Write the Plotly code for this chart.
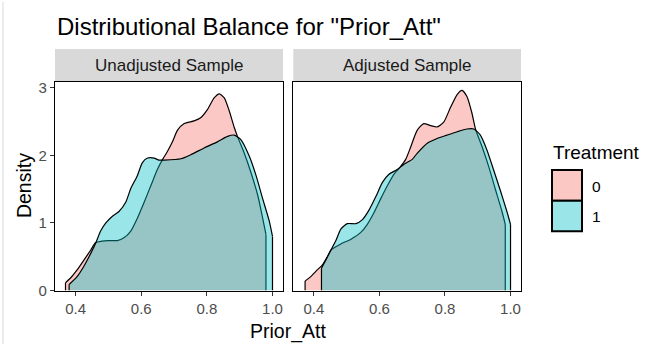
import plotly.graph_objects as go

# Density estimates of Prior_Att by treatment group
unadj_x0 = [0.369, 0.385, 0.405, 0.425, 0.446, 0.461, 0.480, 0.497, 0.527, 0.547, 0.568, 0.588,
            0.609, 0.629, 0.649, 0.665, 0.680, 0.695, 0.710, 0.731, 0.761, 0.782, 0.802, 0.822,
            0.838, 0.853, 0.868, 0.883, 0.894, 0.914, 0.934, 0.955, 0.970, 0.980]
unadj_y0 = [0.115, 0.19, 0.31, 0.45, 0.60, 0.71, 0.73, 0.74, 0.74, 0.78, 0.88, 1.07,
            1.31, 1.55, 1.79, 1.94, 2.06, 2.20, 2.37, 2.47, 2.51, 2.56, 2.68, 2.85,
            2.91, 2.85, 2.66, 2.42, 2.27, 2.03, 1.75, 1.41, 1.07, 0.83]

unadj_x1 = [0.380, 0.405, 0.425, 0.446, 0.461, 0.476, 0.492, 0.512, 0.532, 0.553, 0.568, 0.588,
            0.603, 0.619, 0.639, 0.654, 0.670, 0.721, 0.751, 0.792, 0.832, 0.863, 0.883, 0.904,
            0.929, 0.950, 0.970, 0.990, 1.000]
unadj_y1 = [0.09, 0.21, 0.36, 0.55, 0.70, 0.88, 1.00, 1.10, 1.17, 1.31, 1.51, 1.70,
            1.89, 1.96, 1.96, 1.93, 1.93, 1.95, 2.01, 2.11, 2.20, 2.28, 2.30, 2.23,
            1.99, 1.70, 1.36, 1.03, 0.80]

adj_x0 = [0.373, 0.391, 0.411, 0.426, 0.441, 0.452, 0.482, 0.513, 0.543, 0.563, 0.583, 0.604,
          0.624, 0.644, 0.662, 0.680, 0.695, 0.715, 0.735, 0.756, 0.776, 0.796, 0.817, 0.837,
          0.852, 0.867, 0.882, 0.893, 0.913, 0.933, 0.953, 0.974, 0.984]
adj_y0 = [0.14, 0.21, 0.31, 0.38, 0.50, 0.60, 0.69, 0.76, 0.86, 0.98, 1.15, 1.36,
          1.55, 1.72, 1.82, 1.94, 2.12, 2.37, 2.47, 2.44, 2.42, 2.49, 2.71, 2.90,
          2.96, 2.87, 2.63, 2.39, 2.13, 1.84, 1.51, 1.17, 0.98]

adj_x1 = [0.423, 0.436, 0.452, 0.467, 0.482, 0.502, 0.528, 0.548, 0.568, 0.589, 0.609, 0.629,
          0.654, 0.675, 0.700, 0.715, 0.746, 0.776, 0.806, 0.837, 0.867, 0.888, 0.908, 0.928,
          0.948, 0.969, 0.989, 1.000]
adj_y1 = [0.33, 0.45, 0.60, 0.74, 0.91, 0.99, 0.99, 1.05, 1.19, 1.39, 1.60, 1.72,
          1.79, 1.87, 1.94, 2.03, 2.18, 2.25, 2.30, 2.35, 2.39, 2.39, 2.30, 2.08,
          1.79, 1.48, 1.17, 0.98]

panels = ["Unadjusted Sample", "Adjusted Sample"]
groups = ["0", "1"]
x_ticks = [0.4, 0.6, 0.8, 1.0]
x_tick_text = ["0.4", "0.6", "0.8", "1.0"]
y_ticks = [0, 1, 2, 3]

W, H = 671, 352
FONT = "Liberation Sans"
fills = {"0": "rgba(248,118,109,0.4)", "1": "rgba(0,191,196,0.4)"}
fills_solid = {"0": "#FCC8C4", "1": "#99E5E7"}


def px(x):
    return x / W


def py(y):
    return 1 - y / H


fig = go.Figure()

series = [
    ("x", "y", [(unadj_x0, unadj_y0, "0"), (unadj_x1, unadj_y1, "1")]),
    ("x2", "y2", [(adj_x0, adj_y0, "0"), (adj_x1, adj_y1, "1")]),
]

for xa, ya, curves in series:
    for xs, ys, g in curves:
        # smooth density curve filled down to the baseline
        fig.add_trace(go.Scatter(
            x=xs, y=ys, xaxis=xa, yaxis=ya, mode="lines",
            fill="tozeroy", fillcolor=fills[g],
            line=dict(color="black", width=1.2, shape="spline", smoothing=0.6),
            showlegend=False, hoverinfo="skip",
        ))
        # straight edges where the density is cut off at the data range
        fig.add_trace(go.Scatter(
            x=[xs[0], xs[0], None, xs[-1], xs[-1]],
            y=[0, ys[0], None, ys[-1], 0],
            xaxis=xa, yaxis=ya, mode="lines",
            line=dict(color="black", width=1.2),
            showlegend=False, hoverinfo="skip",
        ))

x_range = [0.337, 1.032]
y_range = [0, 3.09]
panel_y = [py(297), py(82)]

common_x = dict(range=x_range, tickvals=x_ticks, ticktext=x_tick_text,
                ticks="outside", ticklen=4, tickwidth=1, tickcolor="#333333",
                showline=True, mirror=True, linecolor="black", linewidth=1.3,
                showgrid=False, zeroline=False,
                tickfont=dict(family=FONT, size=15, color="#4D4D4D"))
common_y = dict(range=y_range, tickvals=y_ticks, showgrid=False, zeroline=False,
                showline=True, mirror=True, linecolor="black", linewidth=1.3,
                domain=panel_y)

fig.update_layout(
    width=W, height=H, margin=dict(l=0, r=0, t=0, b=0),
    paper_bgcolor="white", plot_bgcolor="white",
    xaxis=dict(domain=[px(55), px(283)], anchor="y", **common_x),
    xaxis2=dict(domain=[px(293.3), px(521)], anchor="y2", **common_x),
    yaxis=dict(anchor="x", ticks="outside", ticklen=4, tickwidth=1, tickcolor="#333333",
               tickfont=dict(family=FONT, size=15, color="#4D4D4D"), **common_y),
    yaxis2=dict(anchor="x2", showticklabels=False, ticks="", **common_y),
)

shapes = []
annotations = []

# facet strips
for (x0, x1), label in zip([(55, 283), (293.3, 521)], panels):
    shapes.append(dict(type="rect", xref="paper", yref="paper",
                       x0=px(x0), x1=px(x1), y0=py(81.5), y1=py(48.3),
                       fillcolor="#D9D9D9", line=dict(width=0), layer="below"))
    annotations.append(dict(text=label, xref="paper", yref="paper",
                            x=px((x0 + x1) / 2), y=py(65), showarrow=False,
                            xanchor="center", yanchor="middle",
                            font=dict(family=FONT, size=17, color="#1A1A1A")))

# title and axis titles
annotations.append(dict(text='Distributional Balance for "Prior_Att"', xref="paper", yref="paper",
                        x=px(55), y=py(25), showarrow=False, xanchor="left", yanchor="middle",
                        font=dict(family=FONT, size=24, color="black")))
annotations.append(dict(text="Density", xref="paper", yref="paper", textangle=-90,
                        x=px(24), y=py(189.5), showarrow=False, xanchor="center", yanchor="middle",
                        font=dict(family=FONT, size=19.5, color="black")))
annotations.append(dict(text="Prior_Att", xref="paper", yref="paper",
                        x=px(288), y=py(339), showarrow=False, xanchor="center", yanchor="middle",
                        font=dict(family=FONT, size=19.5, color="black")))

# legend
annotations.append(dict(text="Treatment", xref="paper", yref="paper",
                        x=px(551), y=py(155), showarrow=False, xanchor="left", yanchor="middle",
                        font=dict(family=FONT, size=19, color="black")))
for i, g in enumerate(groups):
    top = 173 + i * 31.5
    shapes.append(dict(type="rect", xref="paper", yref="paper",
                       x0=px(552), x1=px(582), y0=py(top + 31.5), y1=py(top),
                       fillcolor=fills_solid[g], line=dict(color="black", width=2)))
    annotations.append(dict(text=g, xref="paper", yref="paper",
                            x=px(590), y=py(top + 16.5), showarrow=False,
                            xanchor="left", yanchor="middle",
                            font=dict(family=FONT, size=15.5, color="black")))

# thin frame line on the left edge
shapes.append(dict(type="line", xref="paper", yref="paper", x0=px(3), x1=px(3), y0=0, y1=1,
                   line=dict(color="#D5DADF", width=1)))

fig.update_layout(shapes=shapes, annotations=annotations)
fig.write_html("out.html")
